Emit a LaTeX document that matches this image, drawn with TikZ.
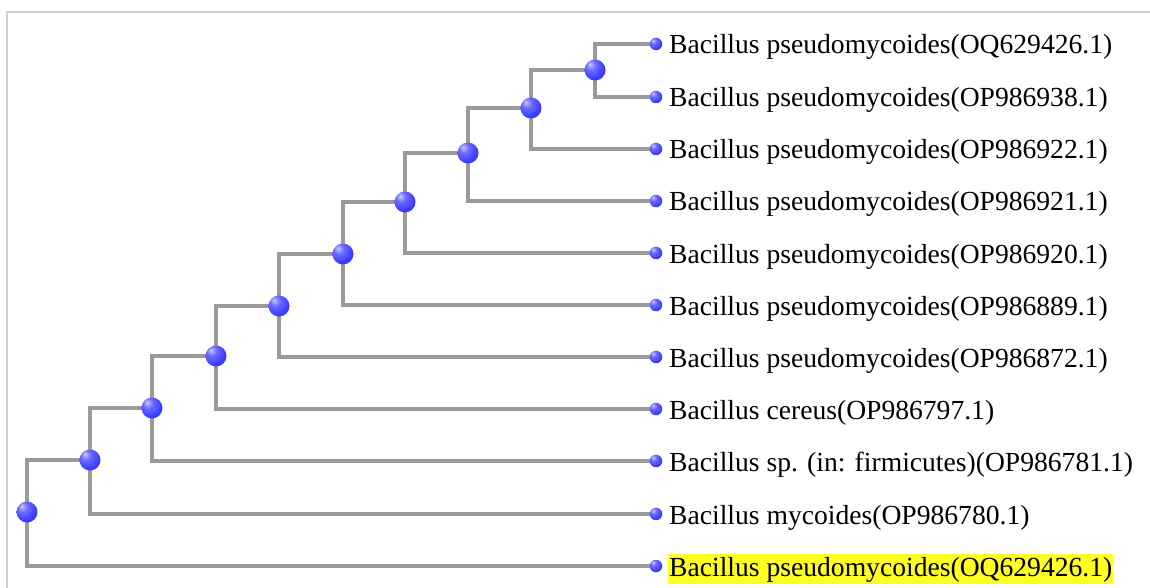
\documentclass[tikz,border=0pt]{standalone}
\usepackage{fontspec}
\setmainfont{Liberation Serif}
\usetikzlibrary{backgrounds}
\definecolor{branchgray}{HTML}{9A9A9A}
\definecolor{framegray}{HTML}{D0D0D0}
\definecolor{hl}{HTML}{FFFF22}
\definecolor{ballblue}{HTML}{3A3AFF}
\definecolor{balldark}{HTML}{1818A0}
\definecolor{balllight}{HTML}{C8C8FF}
\pgfdeclareradialshading{treeball}{\pgfpoint{-12bp}{14bp}}{%
  color(0bp)=(balllight); color(12bp)=(ballblue!75!white); color(30bp)=(ballblue);
  color(52bp)=(ballblue!85!black); color(66bp)=(balldark); color(80bp)=(balldark)}
\begin{document}
\begin{tikzpicture}[x=1pt,y=-1pt,
  inode/.style={circle,shading=treeball,minimum size=21pt,inner sep=0pt},
  lnode/.style={circle,shading=treeball,minimum size=12.5pt,inner sep=0pt},
  lab/.style={anchor=base west,inner sep=0pt,font=\fontsize{27.6}{30}\selectfont},
  branch/.style={draw=branchgray,line width=3.4pt,line join=miter}]
\useasboundingbox (0,0) rectangle (1150,588);
\draw[framegray,line width=1.2pt] (7,588) -- (7,12) -- (1150,12);
% internal nodes
\node[inode] (n0) at (27,512) {};
\node[inode] (n1) at (90,460) {};
\node[inode] (n2) at (152,408) {};
\node[inode] (n3) at (216,356) {};
\node[inode] (n4) at (279,306) {};
\node[inode] (n5) at (343,254) {};
\node[inode] (n6) at (405,202) {};
\node[inode] (n7) at (468,153) {};
\node[inode] (n8) at (531,108) {};
\node[inode] (n9) at (595,70) {};
% leaves
\foreach \i/\y in {1/44,2/97,3/149,4/201,5/253,6/305,7/357,8/409,9/461,10/514,11/566}{
  \node[lnode] (l\i) at (656,\y) {};
}
% labels
\node[lab] (t1) at (669,54) {Bacillus pseudomycoides(OQ629426.1)};
\node[lab] (t2) at (669,107) {Bacillus pseudomycoides(OP986938.1)};
\node[lab] (t3) at (669,159) {Bacillus pseudomycoides(OP986922.1)};
\node[lab] (t4) at (669,211) {Bacillus pseudomycoides(OP986921.1)};
\node[lab] (t5) at (669,263) {Bacillus pseudomycoides(OP986920.1)};
\node[lab] (t6) at (669,315) {Bacillus pseudomycoides(OP986889.1)};
\node[lab] (t7) at (669,367) {Bacillus pseudomycoides(OP986872.1)};
\node[lab] (t8) at (669,419) {Bacillus cereus(OP986797.1)};
\node[lab] (t9) at (669,471) {Bacillus sp. (in: firmicutes)(OP986781.1)};
\node[lab] (t10) at (669,524) {Bacillus mycoides(OP986780.1)};
\node[lab,fill=hl,inner xsep=1pt,inner ysep=2.5pt] (t11) at (668,576) {Bacillus pseudomycoides(OQ629426.1)};
% branches
\begin{scope}[on background layer]
\draw[branch] (l1.center) -| (n9.center) |- (l2.center);
\draw[branch] (n9.center) -| (n8.center) |- (l3.center);
\draw[branch] (n8.center) -| (n7.center) |- (l4.center);
\draw[branch] (n7.center) -| (n6.center) |- (l5.center);
\draw[branch] (n6.center) -| (n5.center) |- (l6.center);
\draw[branch] (n5.center) -| (n4.center) |- (l7.center);
\draw[branch] (n4.center) -| (n3.center) |- (l8.center);
\draw[branch] (n3.center) -| (n2.center) |- (l9.center);
\draw[branch] (n2.center) -| (n1.center) |- (l10.center);
\draw[branch] (n1.center) -| (n0.center) |- (l11.center);
\end{scope}
\end{tikzpicture}
\end{document}
